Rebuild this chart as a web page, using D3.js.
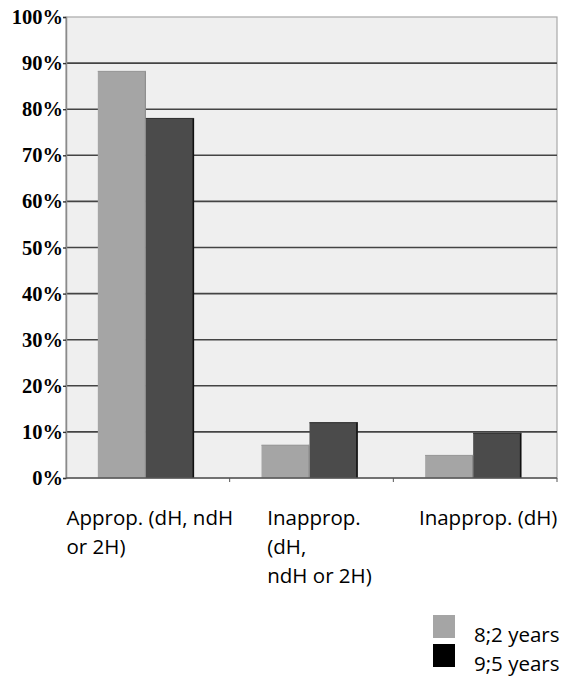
<!DOCTYPE html>
<html>
<head>
<meta charset="utf-8">
<script src="https://cdn.jsdelivr.net/npm/d3@7/dist/d3.min.js"></script>
<style>
  html, body { margin: 0; padding: 0; background: #fff; }
  svg { display: block; }
</style>
</head>
<body>
<svg id="chart" width="564" height="677"></svg>
<script>
// Response categories (each entry is a list of wrapped lines)
const categories = [
  ["Approp. (dH, ndH", "or 2H)"],
  ["Inapprop.", "(dH,", "ndH or 2H)"],
  ["Inapprop. (dH)"]
];
const seriesNames = ["8;2 years", "9;5 years"];
const age82 = [88.3, 7.2, 5.0];
const age95 = [78.1, 12.1, 9.8];
const yTicks = [0, 10, 20, 30, 40, 50, 60, 70, 80, 90, 100];

const svg = d3.select("#chart");
const margin = { left: 66, right: 7, top: 17, bottom: 199 };
const W = 564, H = 677;
const plotW = W - margin.left - margin.right;
const plotH = H - margin.top - margin.bottom;

const colors = ["#a5a5a5", "#4b4b4b"];
// horizontal nudge of each wrapped category label block
const labelNudge = [2, 8, 13];

const x0 = d3.scaleBand().domain(d3.range(categories.length)).range([0, plotW]).padding(0);
const x1 = d3.scaleBand().domain([0, 1]).range([0, 96]).padding(0);
const y = d3.scaleLinear().domain([0, 100]).range([plotH, 0]);

const g = svg.append("g").attr("transform", `translate(${margin.left},${margin.top})`);

// plot background
g.append("rect").attr("x", 0).attr("y", 0).attr("width", plotW).attr("height", plotH)
  .attr("fill", "#efefef").attr("stroke", "#a8a8a8").attr("stroke-width", 1.2);

// horizontal grid lines
g.append("g").selectAll("line").data(yTicks.filter(t => t > 0 && t < 100)).join("line")
  .attr("x1", 0).attr("x2", plotW)
  .attr("y1", d => y(d)).attr("y2", d => y(d))
  .attr("stroke", "#444").attr("stroke-width", 1.6);

// bars
const series = [age82, age95];
const groups = g.append("g").selectAll("g").data(d3.range(categories.length)).join("g")
  .attr("transform", i => `translate(${x0(i) + x0.bandwidth() / 2 - 50},0)`);

const cell = i => series.map((s, k) => ({ k, v: s[i] }));

groups.selectAll("rect").data(cell).join("rect")
  .attr("x", d => x1(d.k))
  .attr("y", d => y(d.v))
  .attr("width", x1.bandwidth())
  .attr("height", d => y(0) - y(d.v))
  .attr("fill", d => colors[d.k]);

// dark edge on the right side and top of each bar
groups.selectAll("line.edge").data(cell).join("line")
  .attr("class", "edge")
  .attr("x1", d => x1(d.k) + x1.bandwidth() - 0.5)
  .attr("x2", d => x1(d.k) + x1.bandwidth() - 0.5)
  .attr("y1", d => y(d.v))
  .attr("y2", y(0))
  .attr("stroke", d => d.k === 1 ? "#111" : "#888")
  .attr("stroke-width", d => d.k === 1 ? 1.6 : 1);
groups.selectAll("line.top").data(cell).join("line")
  .attr("class", "top")
  .attr("x1", d => x1(d.k))
  .attr("x2", d => x1(d.k) + x1.bandwidth())
  .attr("y1", d => y(d.v) + 0.5)
  .attr("y2", d => y(d.v) + 0.5)
  .attr("stroke", d => d.k === 1 ? "#333" : "#999")
  .attr("stroke-width", 1);

// y axis
const yAxis = d3.axisLeft(y).tickValues(yTicks).tickSize(3).tickPadding(0).tickFormat(d => d + "%");
const ya = g.append("g").call(yAxis);
ya.select(".domain").attr("stroke", "#8a8a8a").attr("stroke-width", 1.5);
ya.selectAll(".tick line").attr("stroke", "#333").attr("stroke-width", 1.4);
ya.selectAll(".tick text")
  .attr("font-family", "'Liberation Serif', 'Times New Roman', serif")
  .attr("font-weight", "bold").attr("font-size", 20.5).attr("fill", "#000");

// x axis baseline and category separators
g.append("line").attr("x1", 0).attr("x2", plotW).attr("y1", plotH).attr("y2", plotH)
  .attr("stroke", "#555").attr("stroke-width", 1.5);
g.append("g").selectAll("line").data(d3.range(1, categories.length + 1)).join("line")
  .attr("x1", i => i === categories.length ? plotW : x0(i))
  .attr("x2", i => i === categories.length ? plotW : x0(i))
  .attr("y1", plotH).attr("y2", plotH + 4)
  .attr("stroke", "#555").attr("stroke-width", 1);

// category labels
const labelFont = "'Open Sans', 'Noto Sans', sans-serif";
const lab = g.append("g").selectAll("text").data(categories).join("text")
  .attr("font-family", labelFont).attr("font-size", 20.5).attr("fill", "#000")
  .attr("y", plotH + 47);
lab.each(function (lines, i) {
  const t = d3.select(this);
  lines.forEach((ln, j) => {
    t.append("tspan").attr("dy", j === 0 ? 0 : 29).text(ln);
  });
  let w = 0;
  t.selectAll("tspan").each(function () { w = Math.max(w, this.getComputedTextLength()); });
  const left = x0(i) + x0.bandwidth() / 2 - w / 2 + labelNudge[i];
  t.selectAll("tspan").attr("x", left);
});

// legend
const legend = svg.append("g").attr("transform", "translate(433,615)");
const legItems = legend.selectAll("g").data(seriesNames).join("g")
  .attr("transform", (d, i) => `translate(0,${i * 29})`);
legItems.append("rect").attr("width", 22).attr("height", 23)
  .attr("fill", (d, i) => i === 0 ? "#a5a5a5" : "#000");
legItems.append("text").attr("x", 41).attr("y", 27)
  .attr("font-family", labelFont).attr("font-size", 20.5).attr("fill", "#000")
  .text(d => d);
</script>
</body>
</html>
